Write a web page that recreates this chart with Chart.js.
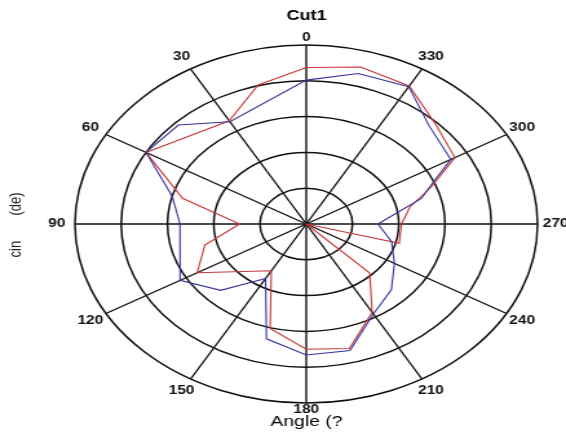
<!DOCTYPE html>
<html><head><meta charset="utf-8">
<script src="https://cdn.jsdelivr.net/npm/chart.js@4.4.1/dist/chart.umd.min.js"></script>
<style>
html,body{margin:0;padding:0;background:#fff;overflow:hidden;width:566px;height:437px;}
#wrap{position:absolute;left:0;top:0;width:438px;height:437px;transform:scaleX(1.2922);transform-origin:0 0;}
</style></head><body>
<div id="wrap"><canvas id="c" width="438" height="437"></canvas></div>
<script>
// ---- data (angles in degrees, counter-clockwise from top; radius in ring units) ----
const angleTicks = [0, 30, 60, 90, 120, 150, 180, 210, 240, 270, 300, 330];
const ringMax = 5;
const redAngles  = [0, 15, 30, 60, 75, 90, 105, 120, 150, 165, 180, 195, 210, 225, 240, 255, 270, 282, 291, 300, 315, 330, 345];
const redValues  = [4.37, 4.02, 3.33, 4.0, 2.77, 1.44, 2.27, 2.72, 1.51, 3.02, 3.5, 3.6, 2.85, 1.94, 0, 2.08, 2.06, 2.29, 2.9, 3.71, 3.95, 4.45, 4.54];
const blueAngles = [0, 30, 45, 60, 75, 90, 120, 135, 150, 165, 180, 195, 210, 225, 240, 255, 270, 286, 293, 300, 316, 330, 345];
const blueValues = [4.02, 3.3, 3.91, 4.0, 3.0, 2.73, 3.15, 2.62, 1.76, 3.32, 3.66, 3.66, 2.9, 2.6, 2.2, 1.91, 1.55, 2.59, 2.98, 3.61, 3.82, 4.43, 4.35];
const titleText = 'Cut1';
const xTitle = 'Angle (?';
const yTitle = 'cin       (de)';

// ---- build radar slots (1 degree each, clockwise in Chart.js => reverse) ----
const N = 360;
const labels = Array.from({length: N}, (_, i) => String((N - i) % N));
function toSlots(angles, values) {
  const arr = new Array(N).fill(null);
  angles.forEach((a, k) => { arr[(N - a) % N] = values[k]; });
  return arr;
}

const polarText = {
  id: 'polarText',
  afterDraw(chart) {
    const ctx = chart.ctx;
    const s = chart.scales.r;
    const R = s.getDistanceFromCenterForValue(ringMax);
    ctx.save();
    ctx.fillStyle = '#111';
    ctx.font = 'bold 12px "Liberation Sans", Arial, sans-serif';
    ctx.textAlign = 'center';
    ctx.textBaseline = 'middle';
    angleTicks.forEach(a => {
      const d = (a % 180 === 0) ? R + 7 : R * 1.078;
      const p = s.getPointPosition((N - a) % N, d);
      ctx.fillText(String(a), p.x, p.y);
    });
    ctx.translate(12.6, 225);
    ctx.rotate(-Math.PI / 2);
    ctx.font = '13px "Liberation Sans", Arial, sans-serif';
    ctx.fillStyle = '#222';
    ctx.fillText(yTitle, 0, 0);
    ctx.restore();
  }
};

new Chart(document.getElementById('c'), {
  type: 'radar',
  data: {
    labels: labels,
    datasets: [
      { label: 'B', data: toSlots(blueAngles, blueValues), borderColor: '#34349e', borderWidth: 1.1, fill: false, pointRadius: 0, spanGaps: true, tension: 0 },
      { label: 'A', data: toSlots(redAngles, redValues), borderColor: '#c83535', borderWidth: 1.1, fill: false, pointRadius: 0, spanGaps: true, tension: 0 }
    ]
  },
  options: {
    responsive: false,
    animation: false,
    events: [],
    layout: { padding: { left: 40, right: 3.6, top: 0, bottom: 0 } },
    plugins: {
      legend: { display: false },
      tooltip: { enabled: false },
      title: { display: true, text: titleText, color: '#000', font: { family: '"Liberation Sans", Arial, sans-serif', size: 14, weight: 'bold' }, padding: { top: 8, bottom: 20.2 } },
      subtitle: { display: true, position: 'bottom', text: xTitle, color: '#000', font: { family: '"Liberation Sans", Arial, sans-serif', size: 15, weight: 'normal' }, padding: { top: 9.4, bottom: 6.6 } }
    },
    scales: {
      r: {
        min: 0, max: ringMax,
        ticks: { display: false, stepSize: 1 },
        pointLabels: { display: false },
        grid: { circular: true, color: '#111', lineWidth: 1.5 },
        angleLines: {
          display: true,
          color: c => (c.index % 30 === 0 ? '#111' : 'rgba(0,0,0,0)'),
          lineWidth: c => (c.index % 30 === 0 ? 1.4 : 0)
        }
      }
    }
  },
  plugins: [polarText]
});
</script>
</body></html>
